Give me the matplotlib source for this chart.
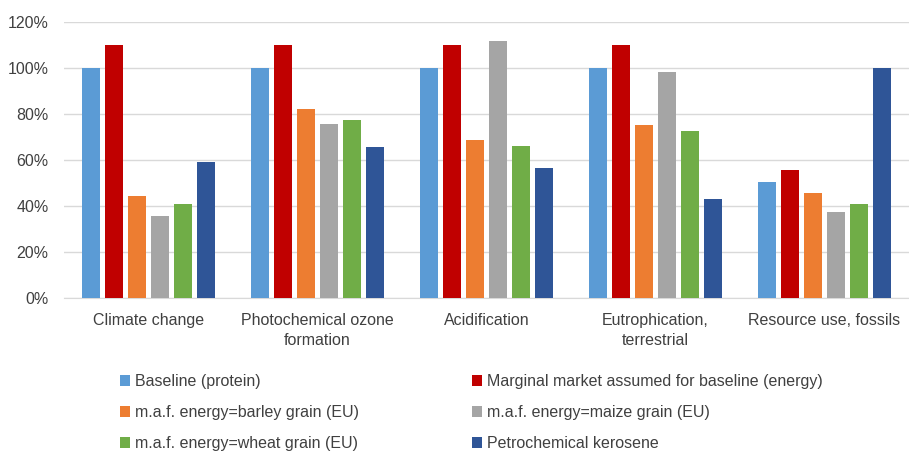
import numpy as np
import matplotlib.pyplot as plt
from matplotlib.ticker import PercentFormatter

plt.rcParams['font.family'] = ['Liberation Sans', 'DejaVu Sans']

categories = ["Climate change", "Photochemical ozone\nformation", "Acidification",
              "Eutrophication,\nterrestrial", "Resource use, fossils"]
series_names = ["Baseline (protein)",
                "Marginal market assumed for baseline (energy)",
                "m.a.f. energy=barley grain (EU)",
                "m.a.f. energy=maize grain (EU)",
                "m.a.f. energy=wheat grain (EU)",
                "Petrochemical kerosene"]
baseline = [100, 100, 100, 100, 50.5]
marginal = [110, 110, 110, 110, 55.5]
barley = [44.5, 82.2, 68.6, 75.4, 45.5]
maize = [35.5, 75.8, 111.9, 98.3, 37.6]
wheat = [41.0, 77.6, 66.2, 72.6, 41.0]
kerosene = [59.0, 65.8, 56.6, 42.9, 100]
colors = ["#5B9BD5", "#C00000", "#ED7D31", "#A5A5A5", "#70AD47", "#2F5597"]

values = [baseline, marginal, barley, maize, wheat, kerosene]

fig = plt.figure(figsize=(9.09, 4.53), dpi=100)
ax = fig.add_axes([64 / 909, 155 / 453, 845 / 909, 276 / 453])

x = np.arange(len(categories))
pitch = 0.1355
width = 0.108
bars = []
for i, (vals, c) in enumerate(zip(values, colors)):
    b = ax.bar(x + (i - 2.5) * pitch, vals, width, color=c, zorder=3, label=series_names[i])
    bars.append(b)

ax.set_xlim(-0.5, len(categories) - 0.5)
ax.set_ylim(0, 120)
ax.set_yticks(np.arange(0, 121, 20))
ax.yaxis.set_major_formatter(PercentFormatter(decimals=0))
ax.grid(axis='y', color='#D9D9D9', linewidth=1, zorder=0)
for s in ['top', 'right', 'left']:
    ax.spines[s].set_visible(False)
ax.spines['bottom'].set_color('#D9D9D9')
ax.tick_params(axis='both', length=0, labelsize=11.5, colors='#404040')
ax.tick_params(axis='y', pad=11)
ax.tick_params(axis='x', pad=11)
ax.set_xticks(x)
ax.set_xticklabels(categories, linespacing=1.4)

# legend rows go left-to-right like the original, so reorder for matplotlib's column fill
order = [0, 2, 4, 1, 3, 5]
fig.legend([bars[i] for i in order], [series_names[i] for i in order],
           ncol=2, loc='upper left', bbox_to_anchor=(106 / 909, 1 - 360 / 453),
           frameon=False, fontsize=11.5, handlelength=0.6, handleheight=0.7,
           handletextpad=0.3, labelspacing=0.98, columnspacing=7.1,
           labelcolor='#404040')

fig.savefig("out.png", dpi=100)
